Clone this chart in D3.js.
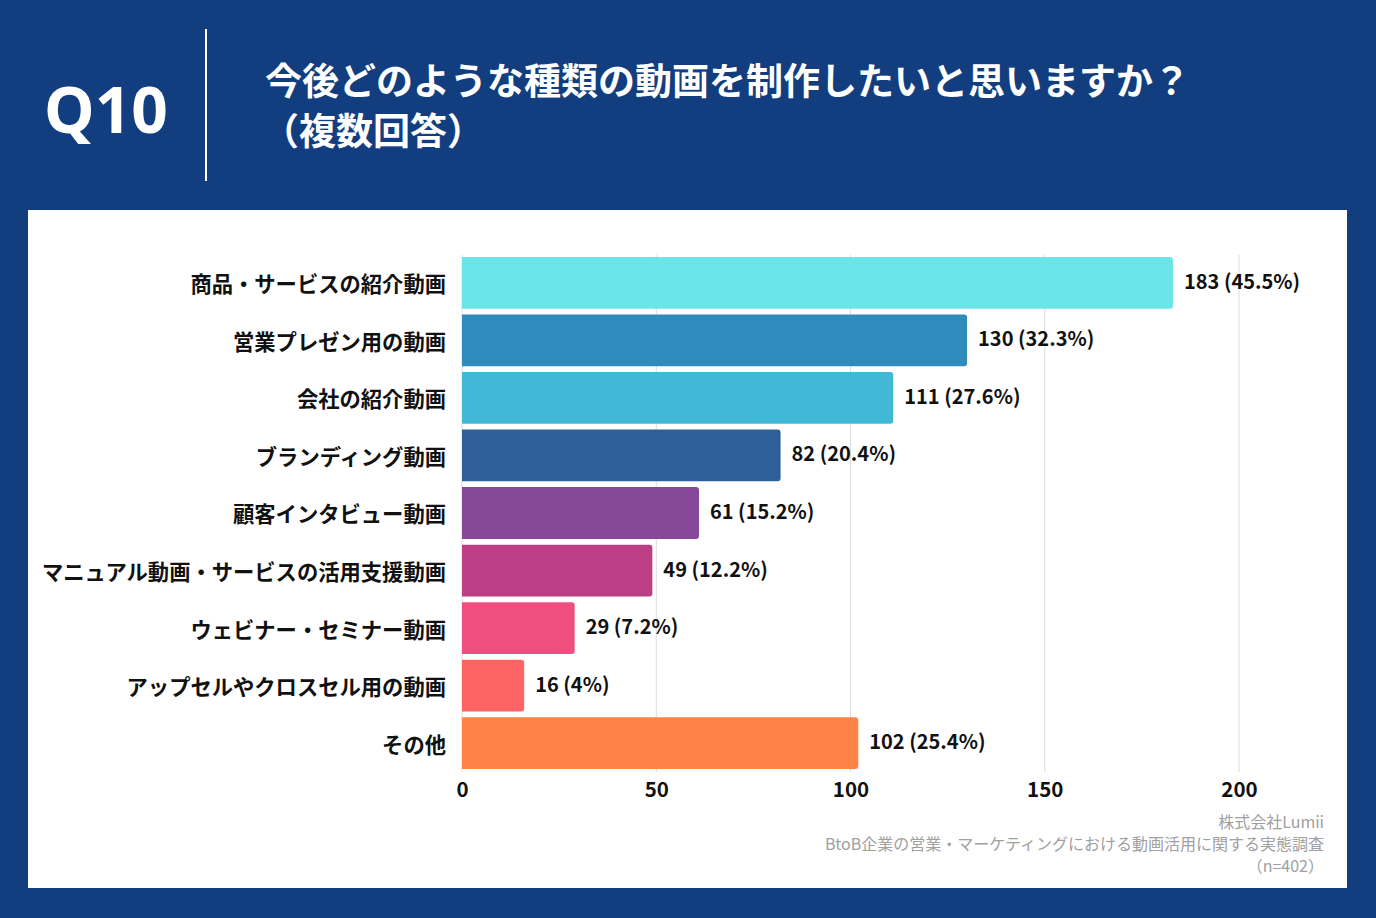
<!DOCTYPE html>
<html><head><meta charset="utf-8">
<script src="https://cdn.jsdelivr.net/npm/d3@7"></script>
<style>
html,body{margin:0;padding:0;background:#123E80;}
svg{display:block;font-family:"Noto Sans CJK JP","Noto Sans",sans-serif;}
</style></head><body>
<svg id="c" width="1376" height="918"></svg>
<script>
const categories = ["商品・サービスの紹介動画","営業プレゼン用の動画","会社の紹介動画","ブランディング動画","顧客インタビュー動画","マニュアル動画・サービスの活用支援動画","ウェビナー・セミナー動画","アップセルやクロスセル用の動画","その他"];
const counts = [183,130,111,82,61,49,29,16,102];
const percents = ["45.5%","32.3%","27.6%","20.4%","15.2%","12.2%","7.2%","4%","25.4%"];
const colors = ["#6CE5E8","#2E8BBC","#41B8D5","#2D5F98","#87489A","#BC3F86","#EF4E7E","#FF6464","#FF8346"];
const xTicks = [0,50,100,150,200];
const titleLines = ["今後どのような種類の動画を制作したいと思いますか？","（複数回答）"];
const sourceLines = ["株式会社Lumii","BtoB企業の営業・マーケティングにおける動画活用に関する実態調査","（n=402）"];

const svg = d3.select("#c");
svg.append("rect").attr("width",1376).attr("height",918).attr("fill","#123E80");
// header
svg.append("text").attr("x",106).attr("y",133).attr("text-anchor","middle")
  .attr("fill","#fff").attr("font-weight",700).attr("font-size",64).attr("font-family","'Noto Sans',sans-serif").text("Q10");
svg.append("line").attr("x1",206).attr("x2",206).attr("y1",29).attr("y2",181).attr("stroke","#fff").attr("stroke-width",2);
svg.selectAll("text.title").data(titleLines).join("text").attr("class","title")
  .attr("x",(d,i)=> i===0?265:262).attr("y",(d,i)=>95+i*50).attr("fill","#fff")
  .attr("font-weight",700).attr("font-size",37).text(d=>d);

// panel
svg.append("rect").attr("x",28).attr("y",210).attr("width",1319).attr("height",678).attr("fill","#fff");

const x = d3.scaleLinear().domain([0,200]).range([462,1239]);
const y = d3.scaleBand().domain(categories).range([254,772]).paddingInner(0.1).paddingOuter(0.05);

const g = svg.append("g");
g.selectAll("line.grid").data(xTicks).join("line").attr("class","grid")
  .attr("x1",d=>x(d)).attr("x2",d=>x(d)).attr("y1",255).attr("y2",772)
  .attr("stroke","#dcdcdc").attr("stroke-width",1);

const data = categories.map((c,i)=>({c,v:counts[i],p:percents[i],col:colors[i]}));
const r = 3;
g.selectAll("path.bar").data(data).join("path").attr("class","bar")
  .attr("fill",d=>d.col)
  .attr("d",d=>{
    const x0=x(0), x1=x(d.v), y0=y(d.c), h=y.bandwidth();
    return `M${x0},${y0}H${x1-r}Q${x1},${y0} ${x1},${y0+r}V${y0+h-r}Q${x1},${y0+h} ${x1-r},${y0+h}H${x0}Z`;
  });

g.selectAll("text.val").data(data).join("text").attr("class","val")
  .attr("x",d=>x(d.v)+11).attr("y",d=>y(d.c)+y.bandwidth()/2-1).attr("dy","0.35em")
  .attr("font-size",20).attr("font-weight",700).attr("fill","#111")
  .text(d=>`${d.v} (${d.p})`);

g.selectAll("text.cat").data(data).join("text").attr("class","cat")
  .attr("x",446).attr("y",d=>y(d.c)+y.bandwidth()/2+2).attr("dy","0.35em").attr("text-anchor","end")
  .attr("font-size",21.3).attr("font-weight",700).attr("fill","#111").text(d=>d.c);

const ax = svg.append("g").attr("transform","translate(0,772)")
  .call(d3.axisBottom(x).tickValues(xTicks).tickSize(0).tickPadding(10));
ax.select(".domain").remove();
ax.selectAll("text").attr("font-size",20.5).attr("font-weight",700).attr("fill","#111")
  .attr("font-family","'Noto Sans CJK JP',sans-serif");

svg.selectAll("text.src").data(sourceLines).join("text").attr("class","src")
  .attr("x",1324).attr("y",(d,i)=>828+i*22).attr("text-anchor","end")
  .attr("font-size",16).attr("fill","#a0a0a0").text(d=>d);
</script>
</body></html>
